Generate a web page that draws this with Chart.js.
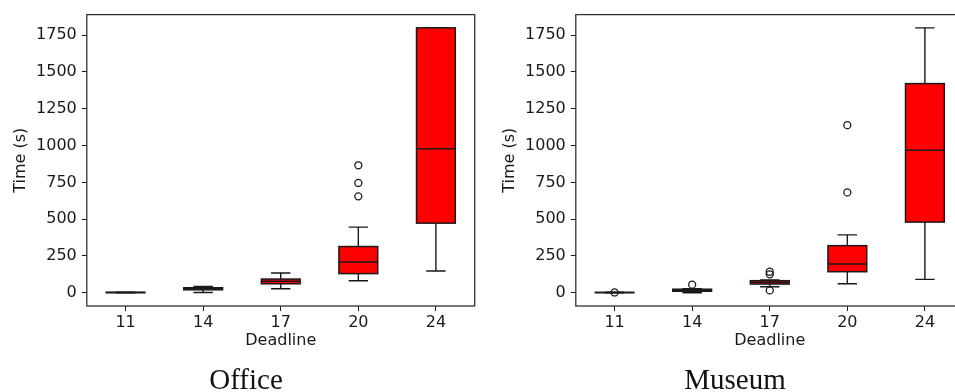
<!DOCTYPE html>
<html>
<head>
<meta charset="utf-8">
<script src="https://cdn.jsdelivr.net/npm/chart.js@4.4.1/dist/chart.umd.min.js"></script>
<style>
  html, body { margin: 0; padding: 0; background: #fff; }
  #wrap { position: relative; width: 955px; height: 392px; overflow: hidden; }
  .panel { position: absolute; top: 0; width: 480px; height: 392px; }
  .caption {
    position: absolute; top: 365px; transform: translateX(-50%);
    font-family: "Liberation Serif", serif; font-size: 29px; line-height: 29px;
    color: #111; white-space: nowrap;
  }
</style>
</head>
<body>
<div id="wrap">
  <div class="panel" style="left:0"><canvas id="office" width="480" height="392"></canvas></div>
  <div class="panel" style="left:489px"><canvas id="museum" width="480" height="392"></canvas></div>
  <div class="caption" style="left:246px">Office</div>
  <div class="caption" style="left:735px">Museum</div>
</div>
<script>
const deadlines = ["11", "14", "17", "20", "24"];
const yTicks = [0, 250, 500, 750, 1000, 1250, 1500, 1750];

// Office
const officeMin = [0, 2, 27, 82, 148];
const officeQ1 = [1, 20, 61, 130, 473];
const officeMed = [2, 28, 78, 209, 978];
const officeQ3 = [3, 34, 93, 314, 1800];
const officeMax = [4, 43, 134, 446, 1800];
const officeOutX = ["20", "20", "20"];
const officeOutY = [866, 746, 655];

// Museum
const museumMin = [0, 0, 41, 61, 91];
const museumQ1 = [1, 10, 59, 143, 480];
const museumMed = [1, 17, 71, 196, 968];
const museumQ3 = [2, 24, 82, 320, 1421];
const museumMax = [3, 28, 87, 393, 1800];
const museumOutX = ["11", "14", "17", "17", "17", "20", "20"];
const museumOutY = [2, 55, 143, 125, 16, 1139, 682];

const INK = "#1a1a1a";
const FONT = { family: "'DejaVu Sans', sans-serif", size: 16 };

const boxParts = {
  id: "boxParts",
  beforeDatasetsDraw(chart, args, o) {
    const { ctx } = chart;
    const ys = chart.scales.y;
    const bars = chart.getDatasetMeta(0).data;
    ctx.save();
    ctx.strokeStyle = INK;
    ctx.lineWidth = 1.4;
    bars.forEach((bar, i) => {
      const x = bar.x;
      const cap = bar.width / 4;
      const yMin = ys.getPixelForValue(o.min[i]);
      const yMax = ys.getPixelForValue(o.max[i]);
      const yLo = ys.getPixelForValue(o.q1[i]);
      const yHi = ys.getPixelForValue(o.q3[i]);
      ctx.beginPath();
      ctx.moveTo(x, yHi); ctx.lineTo(x, yMax);
      ctx.moveTo(x, yLo); ctx.lineTo(x, yMin);
      ctx.moveTo(x - cap, yMax); ctx.lineTo(x + cap, yMax);
      ctx.moveTo(x - cap, yMin); ctx.lineTo(x + cap, yMin);
      ctx.stroke();
    });
    ctx.restore();
  },
  afterDatasetDraw(chart, args, o) {
    if (args.index !== 0) return;
    const { ctx } = chart;
    const ys = chart.scales.y;
    ctx.save();
    ctx.strokeStyle = INK;
    ctx.lineWidth = 1.5;
    args.meta.data.forEach((bar, i) => {
      const half = bar.width / 2;
      const top = Math.min(bar.y, bar.base);
      const bot = Math.max(bar.y, bar.base);
      ctx.strokeRect(bar.x - half, top, bar.width, bot - top);
      const ym = ys.getPixelForValue(o.med[i]);
      ctx.beginPath();
      ctx.moveTo(bar.x - half, ym); ctx.lineTo(bar.x + half, ym);
      ctx.stroke();
    });
    ctx.restore();
  },
  afterDraw(chart) {
    const { ctx, chartArea: a } = chart;
    ctx.save();
    ctx.strokeStyle = "#333";
    ctx.lineWidth = 1.3;
    ctx.strokeRect(a.left, a.top, a.right - a.left, a.bottom - a.top);
    ctx.restore();
  },
};

function makeBoxChart(id, min, q1, med, q3, max, outX, outY) {
  return new Chart(document.getElementById(id), {
    data: {
      labels: deadlines,
      datasets: [
        {
          type: "bar",
          data: deadlines.map((_, i) => [q1[i], q3[i]]),
          backgroundColor: "#ff0000",
          borderWidth: 0,
          barPercentage: 0.5,
          categoryPercentage: 1,
          order: 2,
        },
        {
          type: "line",
          data: outX.map((x, i) => ({ x: x, y: outY[i] })),
          showLine: false,
          pointRadius: 3.5,
          pointBorderWidth: 1.3,
          pointBorderColor: INK,
          pointBackgroundColor: "rgba(0,0,0,0)",
          order: 1,
        },
      ],
    },
    options: {
      responsive: false,
      animation: false,
      layout: { padding: { left: 0, right: 2.2, top: 14, bottom: 36 } },
      plugins: {
        legend: { display: false },
        tooltip: { enabled: false },
        boxParts: { min, q1, med, q3, max },
      },
      scales: {
        x: {
          type: "category",
          offset: true,
          border: { display: false },
          grid: { offset: false, drawOnChartArea: false, tickLength: 5, color: INK },
          ticks: { color: INK, font: FONT, padding: 2, maxRotation: 0 },
          title: { display: true, text: "Deadline", color: INK, font: FONT, padding: { top: 0, bottom: 6 } },
          afterFit: (s) => { s.height = 50; },
        },
        y: {
          min: -90,
          max: 1890,
          border: { display: false },
          grid: { drawOnChartArea: false, tickLength: 5, color: INK },
          ticks: { color: INK, font: FONT, padding: 5, callback: (v) => String(v) },
          afterBuildTicks: (s) => { s.ticks = yTicks.map((v) => ({ value: v })); },
          title: { display: true, text: "Time (s)", color: INK, font: FONT, padding: { top: 11, bottom: 0 } },
          afterFit: (s) => { s.width = 86.8; },
        },
      },
    },
    plugins: [boxParts],
  });
}

makeBoxChart("office", officeMin, officeQ1, officeMed, officeQ3, officeMax, officeOutX, officeOutY);
makeBoxChart("museum", museumMin, museumQ1, museumMed, museumQ3, museumMax, museumOutX, museumOutY);
</script>
</body>
</html>
